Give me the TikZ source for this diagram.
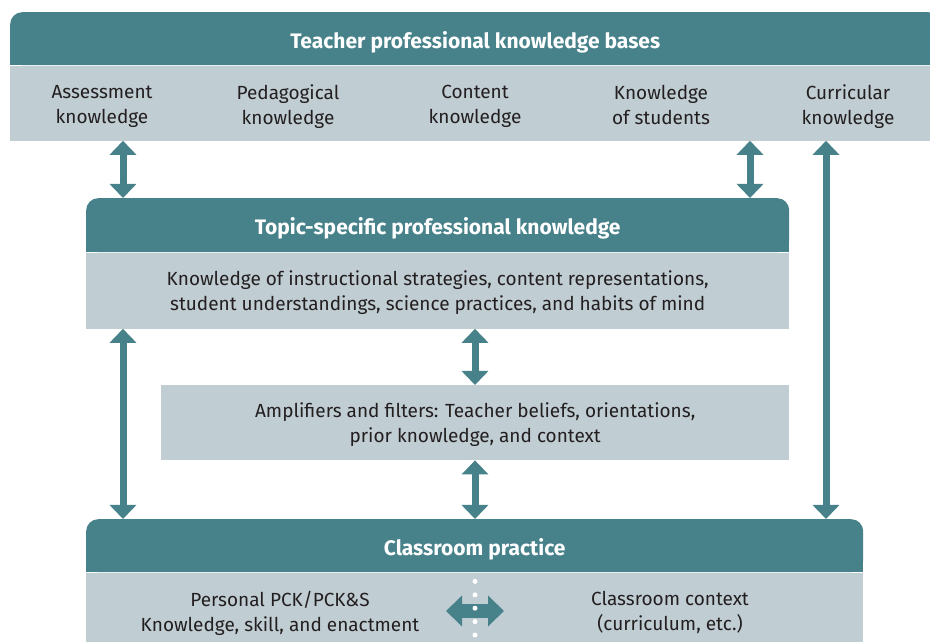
\documentclass[tikz,border=0pt]{standalone}
\usepackage{fontspec}
\setmainfont{Fira Sans}
\usetikzlibrary{positioning,arrows.meta,backgrounds}
\definecolor{hdrcol}{RGB}{71,129,138}
\definecolor{bandcol}{RGB}{192,205,211}
\definecolor{txtcol}{RGB}{35,31,32}

\begin{document}
\begin{tikzpicture}[x=1pt, y=1pt, font=\fontsize{19}{25}\selectfont, text=txtcol,
  hdr/.style={fill=hdrcol, rounded corners=12pt, inner sep=0pt},
  band/.style={fill=bandcol, inner sep=0pt},
  title/.style={text=white, inner sep=0pt, font=\fontsize{21}{25}\selectfont\bfseries,
    execute at begin node=\strut},
  lbl/.style={align=center, inner sep=0pt,
    execute at begin node=\strut, execute at end node=\strut},
  dblarrow/.style={draw=hdrcol, line width=7pt,
    {Triangle[width=26pt,length=14pt]}-{Triangle[width=26pt,length=14pt]}},
  sidearrow/.style={draw=hdrcol, line width=14pt,
    {Triangle[width=30pt,length=16pt]}-{Triangle[width=30pt,length=16pt]}}]
\clip (0,0) rectangle (930,642);
\useasboundingbox (0,0) rectangle (930,642);

\coordinate (xa) at (123,0);
\coordinate (xb) at (475,0);
\coordinate (xc) at (750,0);
\coordinate (xd) at (826,0);

% knowledge bases
\node[hdr, minimum width=930pt, minimum height=53pt, anchor=north west] (kbhead) at (10,630) {};
\node[band, minimum width=930pt, minimum height=75pt, below=0pt of kbhead] (kbbody) {};
\node[title] (kbtitle) at ([yshift=-4.5pt]kbhead.center) {Teacher professional knowledge bases};
\node[lbl] (assess) at (102,533.5) {Assessment\\knowledge};
\node[lbl] (pedag) at (288,533.5) {Pedagogical\\knowledge};
\node[lbl] (content) at (475,533.5) {Content\\knowledge};
\node[lbl] (students) at (661,533.5) {Knowledge\\of students};
\node[lbl] (curric) at (848,533.5) {Curricular\\knowledge};

% topic-specific knowledge
\node[hdr, minimum width=703pt, minimum height=54pt, anchor=north west] (tshead) at (86,444) {};
\node[band, minimum width=703pt, minimum height=76pt, below=0pt of tshead] (tsbody) {};
\node[title] (tstitle) at ([yshift=-4.5pt]tshead.center) {Topic-specific professional knowledge};
\node[lbl] (tstext) at ([yshift=-4pt]tsbody.center)
  {Knowledge of instructional strategies, content representations,\\
   student understandings, science practices, and habits of mind};

\node[band, minimum width=628pt, minimum height=75pt, anchor=north west] (ampbox) at (161,257) {};
\node[lbl] (amptext) at ([yshift=-4pt]ampbox.center)
  {Amplifiers and filters: Teacher beliefs, orientations,\\prior knowledge, and context};

% classroom practice
\node[hdr, minimum width=777pt, minimum height=53pt, anchor=north west] (cphead) at (86,123) {};
\node[band, minimum width=777pt, minimum height=90pt, below=0pt of cphead] (cpbody) {};
\node[title] (cptitle) at ([yshift=-4.5pt]cphead.center) {Classroom practice};
\node[lbl] (pck) at (280,27) {Personal PCK/PCK\&S\\Knowledge, skill, and enactment};
\node[lbl] (ctx) at (670,27) {Classroom context\\(curriculum, etc.)};

\begin{scope}[on background layer]
\fill[hdrcol] (kbhead.south west) rectangle ([yshift=14pt]kbhead.south east);
\fill[hdrcol] (tshead.south west) rectangle ([yshift=14pt]tshead.south east);
\fill[hdrcol] (cphead.south west) rectangle ([yshift=14pt]cphead.south east);
\end{scope}

\draw[dblarrow] (kbbody.south -| xa) -- (tshead.north -| xa);
\draw[dblarrow] (kbbody.south -| xc) -- (tshead.north -| xc);
\draw[dblarrow] (kbbody.south -| xd) -- (cphead.north -| xd);
\draw[dblarrow] (tsbody.south -| xa) -- (cphead.north -| xa);
\draw[dblarrow] (tsbody.south -| xb) -- (ampbox.north -| xb);
\draw[dblarrow] (ampbox.south -| xb) -- (cphead.north -| xb);

\coordinate (hl) at (446,31);
\coordinate (hr) at (504,31);
\draw[sidearrow] (hl) -- (hr);
\draw[white, line width=5pt, line cap=round, dash pattern=on 0pt off 13.4pt]
  ([yshift=-9pt]cpbody.north -| xb) -- (cpbody.south -| xb);
\end{tikzpicture}
\end{document}
